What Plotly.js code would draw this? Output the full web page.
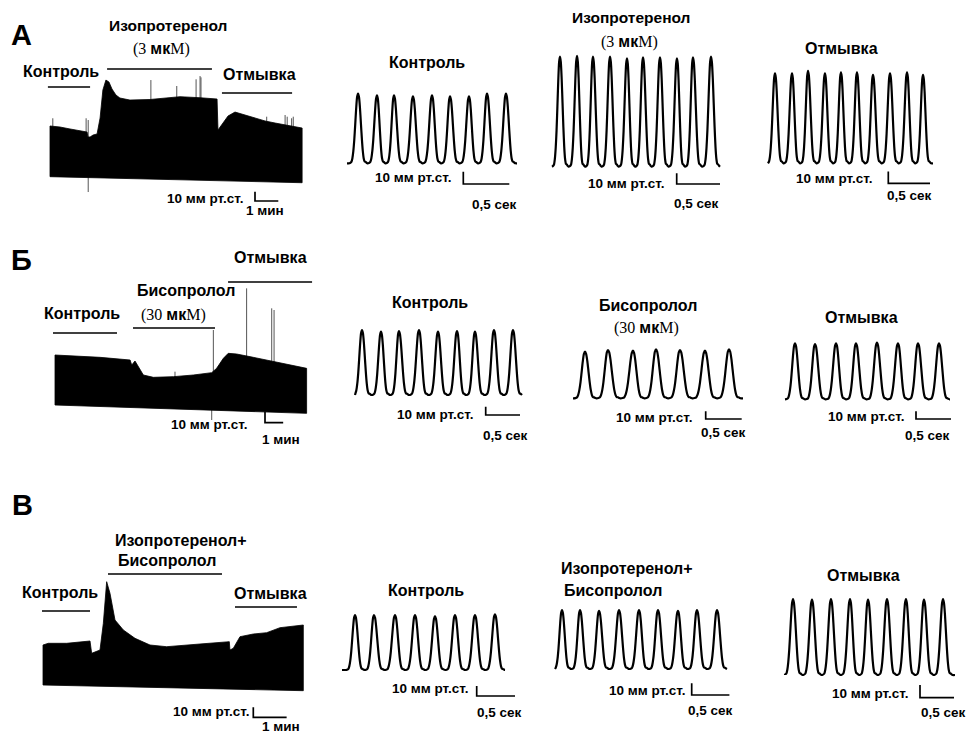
<!DOCTYPE html>
<html><head><meta charset="utf-8">
<script src="https://cdn.plot.ly/plotly-3.0.1.min.js"></script>
<style>html,body{margin:0;padding:0;background:#fff}#chart{width:968px;height:735px}</style>
</head><body><div id="chart"></div>
<script>
const W = 968, H = 735;
const FONT = 'Liberation Sans, Arial, sans-serif';

// ---------- Long recordings (time, min; pressure, mmHg) ----------
// А: isoproterenol
const tA   = [0,0.43,0.86,1.29,1.59,1.63,1.72,1.85,2.02,2.15,2.27,2.40,2.53,2.66,2.83,3.00,3.43,4.29,5.02,5.58,6.44,7.08,7.17,7.21,7.38,7.64,7.94,8.37,8.80,9.23,9.66,10.09,10.52,10.82];
const sysA = [74.2,73.1,71.0,68.8,67.7,62.4,62.4,64.5,65.6,82.8,112.9,123.6,121.5,114.0,107.5,104.3,102.1,102.7,104.0,105.7,104.6,104.0,103.2,69.9,76.3,84.9,89.2,86.0,82.8,79.6,77.4,75.3,73.1,72.0];
const tDiaA = [0,1.63,10.82];
const diaA  = [19.7,18.3,13.2];
const spikeTA = [0.12,1.55,1.64,4.33,5.44,6.27,6.44,6.48,9.30,10.09,10.18,10.37,10.44];
const spikePA = [82.5,82.5,80.6,123.6,117.2,124.4,127.9,126.5,84.2,86.0,84.2,82.5,84.2];
const dropTA = [1.64], dropPA = [3.2];
const intervalsA = [[-0.09,1.72],[2.45,6.95],[7.38,10.39]];

// Б: bisoprolol
const tB   = [0,2.48,4.13,4.22,4.40,4.86,5.41,6.51,7.61,8.62,8.89,9.26,9.53,9.99,10.91,12.01,13.11,13.84];
const sysB = [58.5,56.4,54.0,49.5,53.1,40.5,38.4,39.0,40.5,42.6,46.5,55.5,60.0,59.4,56.4,52.5,48.6,46.5];
const tDiaB = [0,8.69,13.84];
const diaB  = [13.5,9.0,6.0];
const spikeTB = [6.60,8.71,10.54,11.92,12.05];
const spikePB = [43.5,81.0,118.5,100.5,99.0];
const dropTB = [8.62], dropPB = [0];
const intervalsB = [[-0.11,3.41],[4.29,8.80],[9.52,14.14]];

// В: isoproterenol + bisoprolol
const tV   = [0,0.16,0.71,1.41,1.46,1.71,1.81,1.91,2.01,2.16,2.41,2.76,3.21,3.71,4.71,5.59,5.61,5.71,5.91,6.31,6.71,7.11,7.81];
const sysV = [55,56.7,56.7,59,46.7,50,76.7,118.3,106.7,80,70,61.7,55,53.3,56,58.3,50,51.7,63.3,66,67.3,72.3,75];
const tDiaV = [0,7.81];
const diaV  = [15,9.3];
const intervalsV = [[-0.03,1.41],[1.95,5.37],[5.76,7.62]];

// ---------- Pulse recordings (peak time, s; pulse amplitude, mmHg) ----------
const ctrlA_t = [0.120,0.326,0.511,0.717,0.924,1.120,1.326,1.522,1.728];
const ctrlA_amp = [56.7,55.3,55.3,54.5,55.3,54.5,54.5,56.7,56.7];
const isoA_t = [0.092,0.289,0.473,0.670,0.866,1.051,1.247,1.443,1.628,1.836];
const isoA_amp = [102.8,103.5,102.8,102.8,101.3,102.2,102.2,101.3,102.2,102.8];
const washA_t = [0.084,0.288,0.480,0.683,0.875,1.067,1.259,1.463,1.667,1.859];
const washA_amp = [76.9,76.9,79.1,76.9,77.8,77.8,75.5,76.9,77.8,75.5];
const ctrlB_t = [0.102,0.379,0.641,0.933,1.210,1.487,1.749,2.026,2.303];
const ctrlB_amp = [78.3,76.3,77.1,78.3,76.3,77.1,76.3,78.3,78.3];
const bisoB_t = [0.167,0.486,0.833,1.153,1.486,1.833,2.167];
const bisoB_amp = [60.5,62.7,61.8,63.6,62.7,61.8,63.6];
const washB_t = [0.143,0.429,0.729,1.014,1.314,1.614,1.900,2.200];
const washB_amp = [72.7,71.8,72.7,72.7,73.5,72.7,72.7,72.7];
const ctrlV_t = [0.170,0.418,0.692,0.953,1.214,1.475,1.736,1.997];
const ctrlV_amp = [55,55,55,55,54,55,55,55.7];
const isoBisoV_t = [0.093,0.332,0.584,0.849,1.114,1.366,1.631,1.883,2.149];
const isoBisoV_amp = [50.4,50.4,49.6,50.4,50.4,50.4,49.6,50.4,50.4];
const washV_t = [0.118,0.397,0.676,0.956,1.221,1.500,1.779,2.044,2.324];
const washV_amp = [59.8,59.3,59.8,59.8,59.3,59.8,59.8,59.3,59.8];
const durations = {ctrlA:1.848, isoA:1.94, washA:1.978, ctrlB:2.434, bisoB:2.361, washB:2.357, ctrlV:2.128, isoBisoV:2.281, washV:2.5};

// one beat, normalised (phase as fraction of the period from the peak)
const beatPhase = [-0.5,-0.42,-0.35,-0.3,-0.25,-0.2,-0.15,-0.1,-0.05,0,0.05,0.1,0.15,0.2,0.25,0.3,0.35,0.4,0.45,0.5];
const beatShape = [0,0.005,0.02,0.07,0.17,0.33,0.55,0.78,0.95,1,0.95,0.8,0.58,0.36,0.18,0.07,0.025,0.02,0.008,0];

// ---------- layout helpers ----------
const layout = {
  width: W, height: H, autosize: false,
  margin: {l:0, r:0, t:0, b:0, pad:0},
  paper_bgcolor: '#fff', plot_bgcolor: 'rgba(0,0,0,0)',
  showlegend: false, shapes: [], annotations: []
};
const traces = [];
function axId(i){ return i === 1 ? '' : String(i); }
function setAxes(i, p){
  const [x0,x1,y0,y1] = p.box;
  layout['xaxis'+axId(i)] = {domain:[x0/W, x1/W], range:[(x0-p.ox)/p.sx, (x1-p.ox)/p.sx], visible:false, fixedrange:true, anchor:'y'+axId(i)};
  layout['yaxis'+axId(i)] = {domain:[1-y1/H, 1-y0/H], range:[(p.oy-y1)/p.sy, (p.oy-y0)/p.sy], visible:false, fixedrange:true, anchor:'x'+axId(i)};
}
function scaleBar(i, p, bw, bh){
  const bx = (p.bar[0]-p.ox)/p.sx, by = (p.oy-p.bar[1])/p.sy;
  traces.push({x:[bx,bx,bx+bw], y:[by+bh,by,by], xaxis:'x'+axId(i), yaxis:'y'+axId(i),
    mode:'lines', line:{color:'#000', width:1.7}, hoverinfo:'skip'});
}
function longPanel(i, p, t, sys, td, dia, spT, spP, drT, drP, intervals, lineY){
  setAxes(i, p);
  // artefact spikes first, so that the filled recording covers their lower part
  const sx=[], sy=[];
  (spT||[]).forEach((v,k)=>{ sx.push(v,v,null); sy.push(30,spP[k],null); });
  (drT||[]).forEach((v,k)=>{ sx.push(v,v,null); sy.push(30,drP[k],null); });
  if (sx.length) traces.push({x:sx, y:sy, xaxis:'x'+axId(i), yaxis:'y'+axId(i), mode:'lines',
    line:{color:'#555', width:1}, hoverinfo:'skip'});
  const xs = t.concat(td.slice().reverse()), ys = sys.concat(dia.slice().reverse());
  xs.push(t[0]); ys.push(sys[0]);
  traces.push({x:xs, y:ys, xaxis:'x'+axId(i), yaxis:'y'+axId(i), mode:'lines', fill:'toself',
    fillcolor:'#000', line:{color:'#000', width:0.8}, hoverinfo:'skip'});
  intervals.forEach((iv,k)=>{
    layout.shapes.push({type:'line', xref:'x'+axId(i), yref:'paper', x0:iv[0], x1:iv[1],
      y0:1-lineY[k]/H, y1:1-lineY[k]/H, line:{color:'#000', width:1.7}});
  });
  scaleBar(i, p, 1, 10);
}
function pulsePanel(i, p, t, amp, dur){
  setAxes(i, p);
  const xs=[0], ys=[0];
  const n = t.length;
  for (let k=0; k<n; k++){
    const left = k>0 ? t[k]-t[k-1] : t[1]-t[0];
    const right = k<n-1 ? t[k+1]-t[k] : t[k]-t[k-1];
    beatPhase.forEach((ph,j)=>{
      const x = t[k] + ph*(ph<0 ? left : right);
      if (x > xs[xs.length-1] && x < dur){ xs.push(x); ys.push(beatShape[j]*amp[k]); }
    });
  }
  xs.push(dur); ys.push(0);
  traces.push({x:xs, y:ys, xaxis:'x'+axId(i), yaxis:'y'+axId(i), mode:'lines',
    line:{color:'#000', width:2.2, shape:'spline', smoothing:0.6}, hoverinfo:'skip'});
  scaleBar(i, p, 0.5, 10);
}
function txt(text, x, y, size, extra){
  layout.annotations.push(Object.assign({text:text, x:x/W, y:1-y/H, xref:'paper', yref:'paper',
    xanchor:'center', yanchor:'middle', showarrow:false,
    font:{family:FONT, size:size, color:'#000', weight:700}}, extra||{}));
}
const SERIF = 'font-family:Liberation Serif;font-weight:normal';
function conc(num){ return '<span style="'+SERIF+'">('+num+' </span>мк<span style="'+SERIF+'">М)</span>'; }

// ---------- panels ----------
longPanel(1, {box:[40,315,55,218], ox:50, oy:195, sx:23.3, sy:0.93, bar:[255,201]},
  tA, sysA, tDiaA, diaA, spikeTA, spikePA, dropTA, dropPA, intervalsA, [87,69,93]);
longPanel(2, {box:[45,318,275,447], ox:55, oy:420, sx:18.18, sy:1.111, bar:[265,422.7]},
  tB, sysB, tDiaB, diaB, spikeTB, spikePB, dropTB, dropPB, intervalsB, [333,328,282]);
longPanel(3, {box:[35,312,565,735], ox:43, oy:700, sx:33.33, sy:1.0, bar:[253.3,717.3]},
  tV, sysV, tDiaV, diaV, [], [], [], [], intervalsV, [611,574,607]);

pulsePanel(4,  {box:[338,528,78,205], ox:347, oy:163.3, sx:92,   sy:1.23, bar:[463.3,184]}, ctrlA_t, ctrlA_amp, durations.ctrlA);
pulsePanel(5,  {box:[544,728,45,205], ox:552, oy:166.7, sx:86.6, sy:1.07, bar:[676.7,184]}, isoA_t, isoA_amp, durations.isoA);
pulsePanel(6,  {box:[758,942,60,200], ox:768, oy:163.3, sx:83.4, sy:1.17, bar:[888.3,183.3]}, washA_t, washA_amp, durations.washA);
pulsePanel(7,  {box:[345,530,318,425], ox:355, oy:395,   sx:68.6, sy:0.83, bar:[485.7,415]}, ctrlB_t, ctrlB_amp, durations.ctrlB);
pulsePanel(8,  {box:[563,752,338,428], ox:573, oy:398.3, sx:72,   sy:0.77, bar:[705.7,419]}, bisoB_t, bisoB_amp, durations.bisoB);
pulsePanel(9,  {box:[775,962,330,428], ox:785, oy:399.3, sx:70,   sy:0.77, bar:[916,419]}, washB_t, washB_amp, durations.washB);
pulsePanel(10, {box:[333,522,600,705], ox:342, oy:670,   sx:76.6, sy:1.0,  bar:[476.7,696]}, ctrlV_t, ctrlV_amp, durations.ctrlV);
pulsePanel(11, {box:[546,737,596,705], ox:555, oy:669,   sx:75.4, sy:1.17, bar:[691.7,695]}, isoBisoV_t, isoBisoV_amp, durations.isoBisoV);
pulsePanel(12, {box:[776,964,586,705], ox:785, oy:675,   sx:68,   sy:1.27, bar:[920,697.7]}, washV_t, washV_amp, durations.washV);

// ---------- texts ----------
const S = 13.5;   // scale-bar labels
// row А
txt('А', 21, 35, 29);
txt('Изопротеренол', 168, 25, 15.5);
txt(conc('3'), 161, 49, 16);
txt('Контроль', 61, 72, 16);
txt('Отмывка', 259, 74, 16);
txt('10 мм рт.ст.', 205, 198, S);
txt('1 мин', 265, 210, S);
txt('Контроль', 427, 62, 16);
txt('10 мм рт.ст.', 413, 178, S);
txt('0,5 сек', 494, 204, S);
txt('Изопротеренол', 631, 18, 15.5);
txt(conc('3'), 629, 42, 16);
txt('10 мм рт.ст.', 626, 184, S);
txt('0,5 сек', 696, 203, S);
txt('Отмывка', 841, 49, 16);
txt('10 мм рт.ст.', 834, 179, S);
txt('0,5 сек', 909, 195, S);
// row Б
txt('Б', 21, 260, 29);
txt('Отмывка', 270, 257, 16);
txt('Бисопролол', 186, 290, 16);
txt(conc('30'), 173, 315, 16);
txt('Контроль', 82, 313, 16);
txt('10 мм рт.ст.', 209, 424, S);
txt('1 мин', 281, 439, S);
txt('Контроль', 430, 302, 16);
txt('10 мм рт.ст.', 435, 414, S);
txt('0,5 сек', 505, 435, S);
txt('Бисопролол', 648, 305, 16);
txt(conc('30'), 646, 328, 16);
txt('10 мм рт.ст.', 654, 417, S);
txt('0,5 сек', 723, 432, S);
txt('Отмывка', 861, 317, 16);
txt('10 мм рт.ст.', 866, 416, S);
txt('0,5 сек', 927, 435, S);
// row В
txt('В', 22, 505, 29);
txt('Изопротеренол+', 181, 540, 16);
txt('Бисопролол', 167, 560, 16);
txt('Контроль', 60, 592, 16);
txt('Отмывка', 270, 593, 16);
txt('10 мм рт.ст.', 211, 711, S);
txt('1 мин', 281, 726, S);
txt('Контроль', 426, 590, 16);
txt('10 мм рт.ст.', 430, 688, S);
txt('0,5 сек', 500, 712, S);
txt('Изопротеренол+', 627, 568, 16);
txt('Бисопролол', 613, 590, 16);
txt('10 мм рт.ст.', 647, 690, S);
txt('0,5 сек', 710, 710, S);
txt('Отмывка', 863, 575, 16);
txt('10 мм рт.ст.', 870, 693, S);
txt('0,5 сек', 943, 712, S);

Plotly.newPlot('chart', traces, layout, {staticPlot:true, displayModeBar:false});
</script></body></html>
